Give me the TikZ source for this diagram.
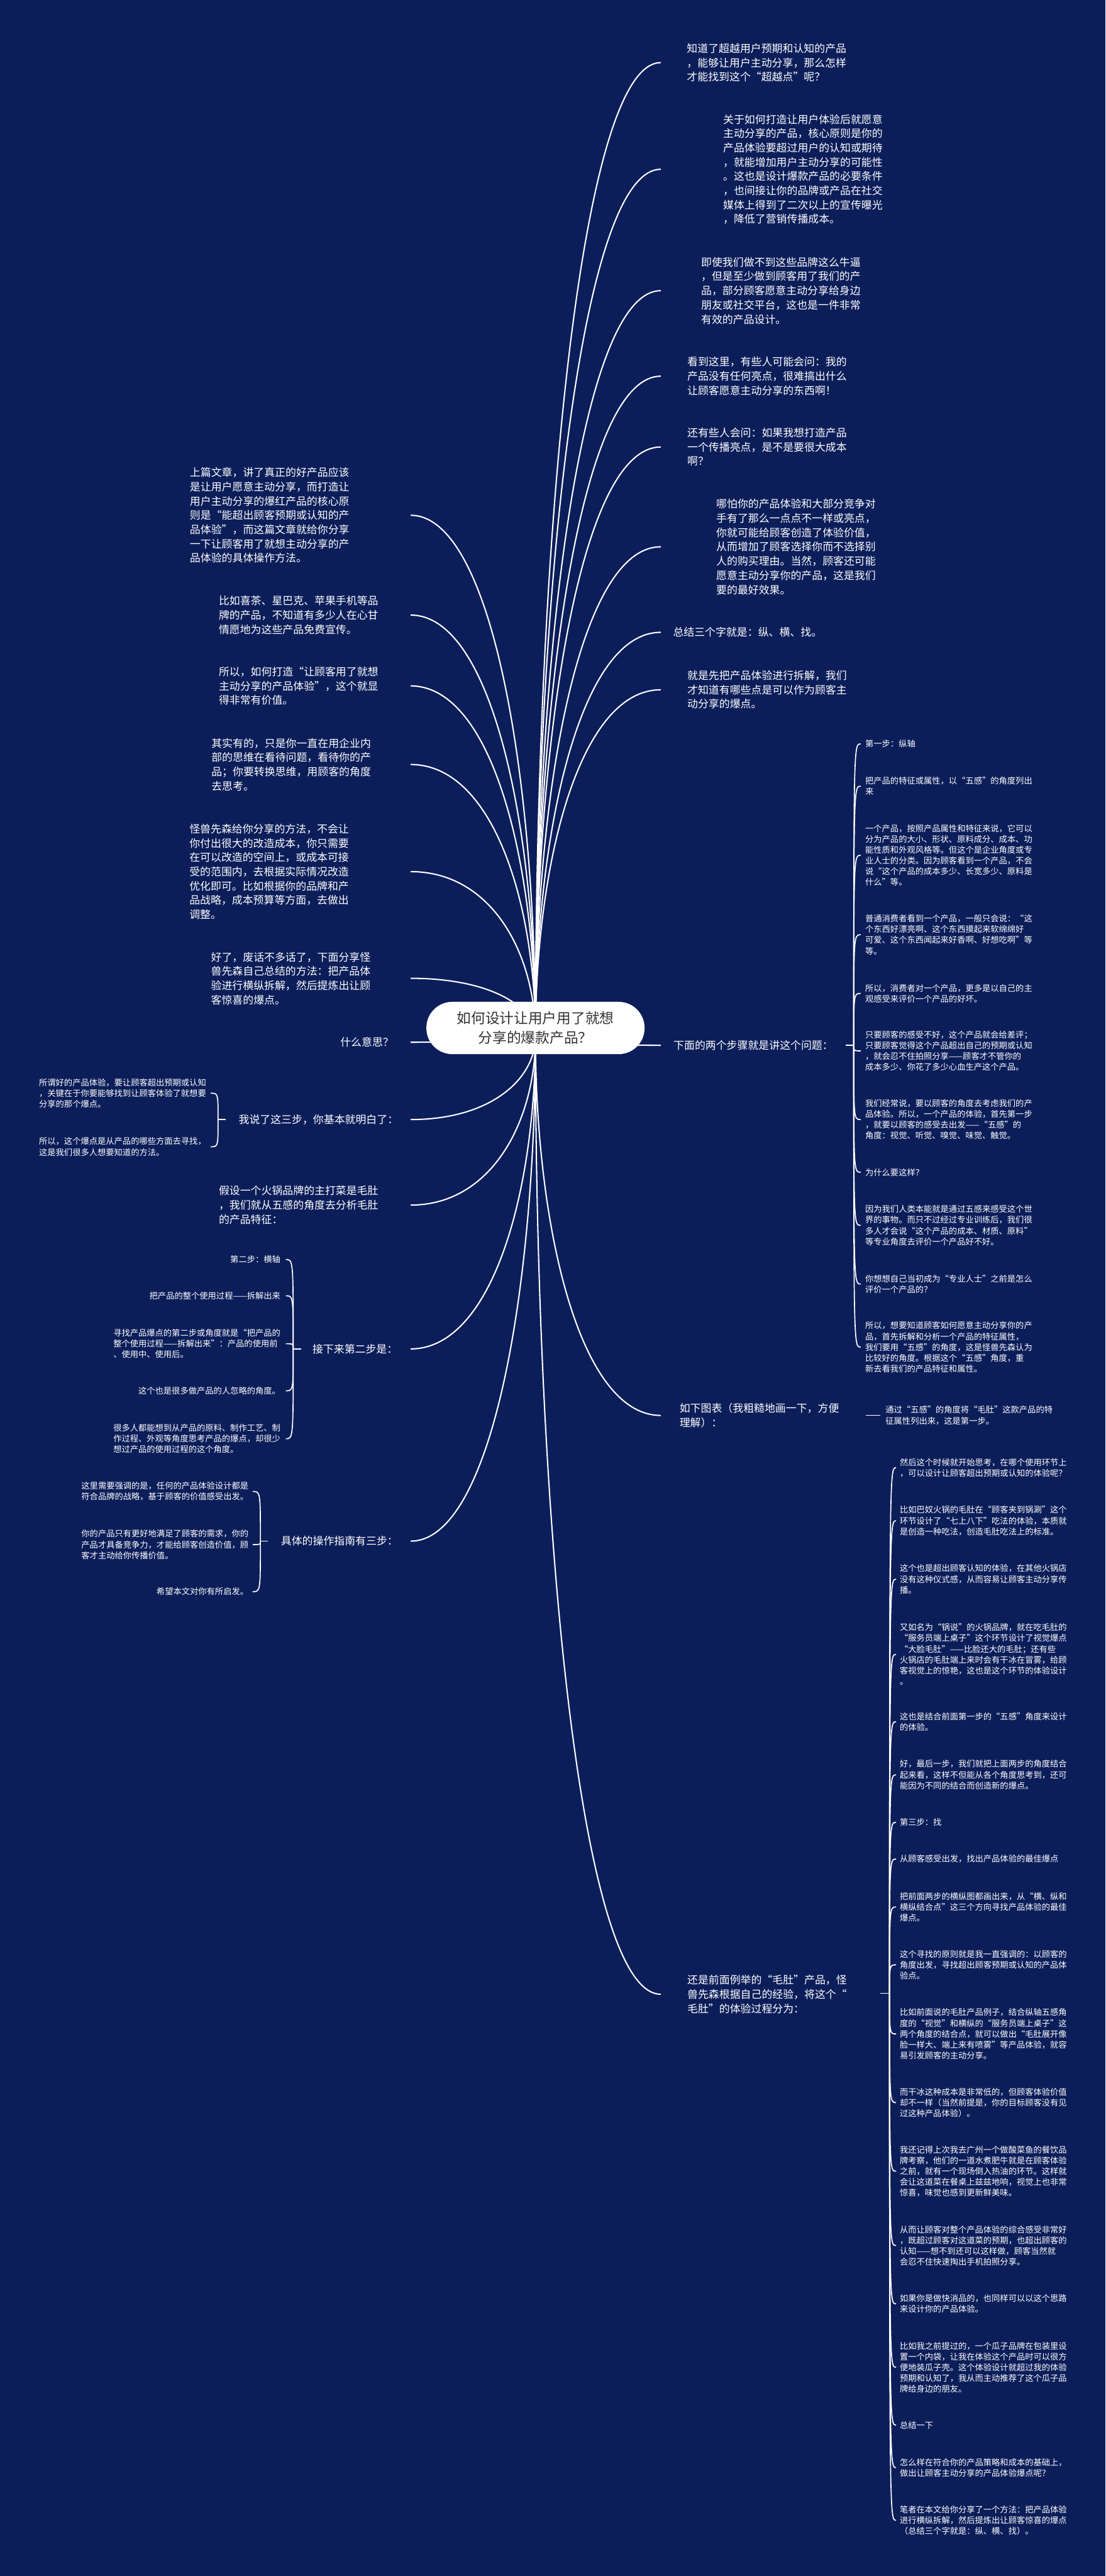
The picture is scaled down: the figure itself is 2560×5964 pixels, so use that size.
\documentclass[tikz,border=0pt]{standalone}
\usepackage{fontspec}
\setmainfont{Noto Sans CJK SC}
\usepackage{xcolor}
\usetikzlibrary{calc}
\definecolor{night}{HTML}{0C1E5A}
\definecolor{ink}{HTML}{333333}

\begin{document}
\begin{tikzpicture}[
        x=0.01cm, y=-0.01cm,
        every node/.style={inner sep=0pt, text=white},
        topic/.style={font=\fontsize{7}{9.4}\selectfont, align=left},
        leaf/.style={font=\fontsize{5.5}{7.1}\selectfont, align=left},
        central/.style={fill=white, text=ink, rounded corners=0.6cm, minimum width=5.05cm, minimum height=1.21cm, align=center, font=\fontsize{9.4}{12.8}\selectfont},
        link/.style={line width=0.7pt, white},
        bough/.style={line width=0.85pt, white, to path={.. controls ($(\tikztostart)!.5!(\tikztostart |- \tikztotarget)$) and ($(\tikztostart |- \tikztotarget)!.35!(#1 |- \tikztotarget)$) .. (#1 |- \tikztotarget)}},
        twig/.style={line width=0.7pt, white, to path={.. controls (\tikztostart |- \tikztotarget) .. (#1 |- \tikztotarget)}}
    ]
    \fill[night] (0,0) rectangle (2560,5964);

    \node[topic, anchor=west] (beyond) at (1590,145) {知道了超越用户预期和认知的产品\\，能够让用户主动分享，那么怎样\\才能找到这个“超越点”呢？};
    \node[topic, anchor=west] (principle) at (1674,392) {关于如何打造让用户体验后就愿意\\主动分享的产品，核心原则是你的\\产品体验要超过用户的认知或期待\\，就能增加用户主动分享的可能性\\。这也是设计爆款产品的必要条件\\，也间接让你的品牌或产品在社交\\媒体上得到了二次以上的宣传曝光\\，降低了营销传播成本。};
    \node[topic, anchor=west] (modest) at (1623,673) {即使我们做不到这些品牌这么牛逼\\，但是至少做到顾客用了我们的产\\品，部分顾客愿意主动分享给身边\\朋友或社交平台，这也是一件非常\\有效的产品设计。};
    \node[topic, anchor=west] (noshine) at (1591,871) {看到这里，有些人可能会问：我的\\产品没有任何亮点，很难搞出什么\\让顾客愿意主动分享的东西啊！};
    \node[topic, anchor=west] (costly) at (1591,1035) {还有些人会问：如果我想打造产品\\一个传播亮点，是不是要很大成本\\啊？};
    \node[topic, anchor=west] (edge) at (1658,1266) {哪怕你的产品体验和大部分竞争对\\手有了那么一点点不一样或亮点，\\你就可能给顾客创造了体验价值，\\从而增加了顾客选择你而不选择别\\人的购买理由。当然，顾客还可能\\愿意主动分享你的产品，这是我们\\要的最好效果。};
    \node[topic, anchor=west] (threewords) at (1558,1464) {总结三个字就是：纵、横、找。};
    \node[topic, anchor=west] (dismantle) at (1591,1597) {就是先把产品体验进行拆解，我们\\才知道有哪些点是可以作为顾客主\\动分享的爆点。};
    \node[topic, anchor=west] (twosteps) at (1559,2420) {下面的两个步骤就是讲这个问题：};
    \node[topic, anchor=west] (chart) at (1573,3277) {如下图表（我粗糙地画一下，方便\\理解）：};
    \node[topic, anchor=west] (tripe) at (1591,4617) {还是前面例举的“毛肚”产品，怪\\兽先森根据自己的经验，将这个“\\毛肚”的体验过程分为：};

    \node[topic, anchor=west] (lastpost) at (439,1193) {上篇文章，讲了真正的好产品应该\\是让用户愿意主动分享，而打造让\\用户主动分享的爆红产品的核心原\\则是“能超出顾客预期或认知的产\\品体验”，而这篇文章就给你分享\\一下让顾客用了就想主动分享的产\\品体验的具体操作方法。};
    \node[topic, anchor=west] (brands) at (506,1424) {比如喜茶、星巴克、苹果手机等品\\牌的产品，不知道有多少人在心甘\\情愿地为这些产品免费宣传。};
    \node[topic, anchor=west] (worth) at (506,1588) {所以，如何打造“让顾客用了就想\\主动分享的产品体验”，这个就显\\得非常有价值。};
    \node[topic, anchor=west] (mindset) at (489,1770) {其实有的，只是你一直在用企业内\\部的思维在看待问题，看待你的产\\品；你要转换思维，用顾客的角度\\去思考。};
    \node[topic, anchor=west] (lowcost) at (438,2018) {怪兽先森给你分享的方法，不会让\\你付出很大的改造成本，你只需要\\在可以改造的空间上，或成本可接\\受的范围内，去根据实际情况改造\\优化即可。比如根据你的品牌和产\\品战略，成本预算等方面，去做出\\调整。};
    \node[topic, anchor=west] (method) at (488,2265) {好了，废话不多话了，下面分享怪\\兽先森自己总结的方法：把产品体\\验进行横纵拆解，然后提炼出让顾\\客惊喜的爆点。};
    \node[topic, anchor=east] (meaning) at (912,2413) {什么意思？};
    \node[topic, anchor=west] (threesteps) at (552,2592) {我说了这三步，你基本就明白了：};
    \node[topic, anchor=west] (hotpot) at (506,2790) {假设一个火锅品牌的主打菜是毛肚\\，我们就从五感的角度去分析毛肚\\的产品特征：};
    \node[topic, anchor=west] (second) at (723,3123) {接下来第二步是：};
    \node[topic, anchor=west] (guide) at (650,3568) {具体的操作指南有三步：};

    \node[leaf, anchor=east] (key1) at (478,2531) {所谓好的产品体验，要让顾客超出预期或认知\\，关键在于你要能够找到让顾客体验了就想要\\分享的那个爆点。};
    \node[leaf, anchor=east] (key2) at (478,2655) {所以，这个爆点是从产品的哪些方面去寻找，\\这是我们很多人想要知道的方法。};

    \node[leaf, anchor=east] (heng1) at (650,2916) {第二步：横轴};
    \node[leaf, anchor=east] (heng2) at (650,3000) {把产品的整个使用过程——拆解出来};
    \node[leaf, anchor=east] (heng3) at (650,3111) {寻找产品爆点的第二步或角度就是“把产品的\\整个使用过程——拆解出来”：产品的使用前\\、使用中、使用后。};
    \node[leaf, anchor=east] (heng4) at (650,3220) {这个也是很多做产品的人忽略的角度。};
    \node[leaf, anchor=east] (heng5) at (650,3331) {很多人都能想到从产品的原料、制作工艺、制\\作过程、外观等角度思考产品的爆点，却很少\\想过产品的使用过程的这个角度。};

    \node[leaf, anchor=east] (tip1) at (576,3453) {这里需要强调的是，任何的产品体验设计都是\\符合品牌的战略，基于顾客的价值感受出发。};
    \node[leaf, anchor=east] (tip2) at (576,3576) {你的产品只有更好地满足了顾客的需求，你的\\产品才具备竞争力，才能给顾客创造价值，顾\\客才主动给你传播价值。};
    \node[leaf, anchor=east] (tip3) at (576,3685) {希望本文对你有所启发。};

    \node[leaf, anchor=west] (zong1) at (2003,1722) {第一步：纵轴};
    \node[leaf, anchor=west] (zong2) at (2003,1820) {把产品的特征或属性，以“五感”的角度列出\\来};
    \node[leaf, anchor=west] (zong3) at (2003,1980) {一个产品，按照产品属性和特征来说，它可以\\分为产品的大小、形状、原料成分、成本、功\\能性质和外观风格等。但这个是企业角度或专\\业人士的分类。因为顾客看到一个产品，不会\\说“这个产品的成本多少、长宽多少、原料是\\什么”等。};
    \node[leaf, anchor=west] (zong4) at (2003,2164) {普通消费者看到一个产品，一般只会说：“这\\个东西好漂亮啊、这个东西摸起来软绵绵好\\可爱、这个东西闻起来好香啊、好想吃啊”等\\等。};
    \node[leaf, anchor=west] (zong5) at (2003,2300) {所以，消费者对一个产品，更多是以自己的主\\观感受来评价一个产品的好坏。};
    \node[leaf, anchor=west] (zong6) at (2003,2433) {只要顾客的感受不好，这个产品就会给差评；\\只要顾客觉得这个产品超出自己的预期或认知\\，就会忍不住拍照分享——顾客才不管你的\\成本多少、你花了多少心血生产这个产品。};
    \node[leaf, anchor=west] (zong7) at (2003,2592) {我们经常说，要以顾客的角度去考虑我们的产\\品体验。所以，一个产品的体验，首先第一步\\，就要以顾客的感受去出发——“五感”的\\角度：视觉、听觉、嗅觉、味觉、触觉。};
    \node[leaf, anchor=west] (zong8) at (2003,2714) {为什么要这样？};
    \node[leaf, anchor=west] (zong9) at (2003,2837) {因为我们人类本能就是通过五感来感受这个世\\界的事物。而只不过经过专业训练后，我们很\\多人才会说“这个产品的成本、材质、原料”\\等专业角度去评价一个产品好不好。};
    \node[leaf, anchor=west] (zong10) at (2003,2973) {你想想自己当初成为“专业人士”之前是怎么\\评价一个产品的？};
    \node[leaf, anchor=west] (zong11) at (2003,3119) {所以，想要知道顾客如何愿意主动分享你的产\\品，首先拆解和分析一个产品的特征属性，\\我们要用“五感”的角度，这是怪兽先森认为\\比较好的角度。根据这个“五感”角度，重\\新去看我们的产品特征和属性。};

    \node[leaf, anchor=west] (senses) at (2050,3277) {通过“五感”的角度将“毛肚”这款产品的特\\征属性列出来，这是第一步。};

    \node[leaf, anchor=west] (flow1) at (2083,3398) {然后这个时候就开始思考，在哪个使用环节上\\，可以设计让顾客超出预期或认知的体验呢？};
    \node[leaf, anchor=west] (flow2) at (2083,3521) {比如巴奴火锅的毛肚在“顾客夹到锅涮”这个\\环节设计了“七上八下”吃法的体验，本质就\\是创造一种吃法，创造毛肚吃法上的标准。};
    \node[leaf, anchor=west] (flow3) at (2083,3656) {这个也是超出顾客认知的体验，在其他火锅店\\没有这种仪式感，从而容易让顾客主动分享传\\播。};
    \node[leaf, anchor=west] (flow4) at (2083,3830) {又如名为“锅说”的火锅品牌，就在吃毛肚的\\“服务员端上桌子”这个环节设计了视觉爆点\\“大脸毛肚”——比脸还大的毛肚；还有些\\火锅店的毛肚端上来时会有干冰在冒雾，给顾\\客视觉上的惊艳，这也是这个环节的体验设计\\。};
    \node[leaf, anchor=west] (flow5) at (2083,3986) {这也是结合前面第一步的“五感”角度来设计\\的体验。};
    \node[leaf, anchor=west] (flow6) at (2083,4109) {好，最后一步，我们就把上面两步的角度结合\\起来看，这样不但能从各个角度思考到，还可\\能因为不同的结合而创造新的爆点。};
    \node[leaf, anchor=west] (flow7) at (2083,4219) {第三步：找};
    \node[leaf, anchor=west] (flow8) at (2083,4304) {从顾客感受出发，找出产品体验的最佳爆点};
    \node[leaf, anchor=west] (flow9) at (2083,4415) {把前面两步的横纵图都画出来，从“横、纵和\\横纵结合点”这三个方向寻找产品体验的最佳\\爆点。};
    \node[leaf, anchor=west] (flow10) at (2083,4549) {这个寻找的原则就是我一直强调的：以顾客的\\角度出发，寻找超出顾客预期或认知的产品体\\验点。};
    \node[leaf, anchor=west] (flow11) at (2083,4709) {比如前面说的毛肚产品例子，结合纵轴五感角\\度的“视觉”和横纵的“服务员端上桌子”这\\两个角度的结合点，就可以做出“毛肚展开像\\脸一样大、端上来有喷雾”等产品体验，就容\\易引发顾客的主动分享。};
    \node[leaf, anchor=west] (flow12) at (2083,4868) {而干冰这种成本是非常低的，但顾客体验价值\\却不一样（当然前提是，你的目标顾客没有见\\过这种产品体验）。};
    \node[leaf, anchor=west] (flow13) at (2083,5027) {我还记得上次我去广州一个做酸菜鱼的餐饮品\\牌考察，他们的一道水煮肥牛就是在顾客体验\\之前，就有一个现场倒入热油的环节。这样就\\会让这道菜在餐桌上兹兹地响，视觉上也非常\\惊喜，味觉也感到更新鲜美味。};
    \node[leaf, anchor=west] (flow14) at (2083,5199) {从而让顾客对整个产品体验的综合感受非常好\\，既超过顾客对这道菜的预期，也超出顾客的\\认知——想不到还可以这样做，顾客当然就\\会忍不住快速掏出手机拍照分享。};
    \node[leaf, anchor=west] (flow15) at (2083,5334) {如果你是做快消品的，也同样可以以这个思路\\来设计你的产品体验。};
    \node[leaf, anchor=west] (flow16) at (2083,5481) {比如我之前提过的，一个瓜子品牌在包装里设\\置一个内袋，让我在体验这个产品时可以很方\\便地装瓜子壳。这个体验设计就超过我的体验\\预期和认知了，我从而主动推荐了这个瓜子品\\牌给身边的朋友。};
    \node[leaf, anchor=west] (flow17) at (2083,5615) {总结一下};
    \node[leaf, anchor=west] (flow18) at (2083,5713) {怎么样在符合你的产品策略和成本的基础上，\\做出让顾客主动分享的产品体验爆点呢？};
    \node[leaf, anchor=west] (flow19) at (2083,5835) {笔者在本文给你分享了一个方法：把产品体验\\进行横纵拆解，然后提炼出让顾客惊喜的爆点\\（总结三个字就是：纵、横、找）。};

    \coordinate (hub) at (1240,2400);
    \coordinate (rx) at (1530,0);
    \coordinate (lx) at (951,0);
    \coordinate (sk) at (505,2592);
    \coordinate (ek) at (488,0);
    \coordinate (sh) at (679,3123);
    \coordinate (eh) at (662,0);
    \coordinate (sg) at (603,3568);
    \coordinate (eg) at (585,0);
    \coordinate (sa) at (1977,2420);
    \coordinate (ea) at (1993,0);
    \coordinate (sb) at (2060,4615);
    \coordinate (eb) at (2075,0);

    \draw[bough=rx] (hub) to (beyond);
    \draw[bough=rx] (hub) to (principle);
    \draw[bough=rx] (hub) to (modest);
    \draw[bough=rx] (hub) to (noshine);
    \draw[bough=rx] (hub) to (costly);
    \draw[bough=rx] (hub) to (edge);
    \draw[bough=rx] (hub) to (threewords);
    \draw[bough=rx] (hub) to (dismantle);
    \draw[bough=rx] (hub) to (twosteps);
    \draw[bough=rx] (hub) to (chart);
    \draw[bough=rx] (hub) to (tripe);
    \draw[bough=lx] (hub) to (lastpost);
    \draw[bough=lx] (hub) to (brands);
    \draw[bough=lx] (hub) to (worth);
    \draw[bough=lx] (hub) to (mindset);
    \draw[bough=lx] (hub) to (lowcost);
    \draw[bough=lx] (hub) to (method);
    \draw[bough=lx] (hub) to (meaning);
    \draw[bough=lx] (hub) to (threesteps);
    \draw[bough=lx] (hub) to (hotpot);
    \draw[bough=lx] (hub) to (second);
    \draw[bough=lx] (hub) to (guide);

    \draw[link] (sk) -- +(18,0);
    \draw[twig=ek] (sk) to (key1);
    \draw[twig=ek] (sk) to (key2);

    \draw[link] (sh) -- +(18,0);
    \draw[twig=eh] (sh) to (heng1);
    \draw[twig=eh] (sh) to (heng2);
    \draw[twig=eh] (sh) to (heng3);
    \draw[twig=eh] (sh) to (heng4);
    \draw[twig=eh] (sh) to (heng5);

    \draw[link] (sg) -- +(17,0);
    \draw[twig=eg] (sg) to (tip1);
    \draw[twig=eg] (sg) to (tip2);
    \draw[twig=eg] (sg) to (tip3);

    \draw[link] (sa) -- +(-19,0);
    \draw[twig=ea] (sa) to (zong1);
    \draw[twig=ea] (sa) to (zong2);
    \draw[twig=ea] (sa) to (zong3);
    \draw[twig=ea] (sa) to (zong4);
    \draw[twig=ea] (sa) to (zong5);
    \draw[twig=ea] (sa) to (zong6);
    \draw[twig=ea] (sa) to (zong7);
    \draw[twig=ea] (sa) to (zong8);
    \draw[twig=ea] (sa) to (zong9);
    \draw[twig=ea] (sa) to (zong10);
    \draw[twig=ea] (sa) to (zong11);

    \draw[link] ([xshift=-0.11cm]senses.west) -- ([xshift=-0.45cm]senses.west);

    \draw[link] (sb) -- +(-21,0);
    \draw[twig=eb] (sb) to (flow1);
    \draw[twig=eb] (sb) to (flow2);
    \draw[twig=eb] (sb) to (flow3);
    \draw[twig=eb] (sb) to (flow4);
    \draw[twig=eb] (sb) to (flow5);
    \draw[twig=eb] (sb) to (flow6);
    \draw[twig=eb] (sb) to (flow7);
    \draw[twig=eb] (sb) to (flow8);
    \draw[twig=eb] (sb) to (flow9);
    \draw[twig=eb] (sb) to (flow10);
    \draw[twig=eb] (sb) to (flow11);
    \draw[twig=eb] (sb) to (flow12);
    \draw[twig=eb] (sb) to (flow13);
    \draw[twig=eb] (sb) to (flow14);
    \draw[twig=eb] (sb) to (flow15);
    \draw[twig=eb] (sb) to (flow16);
    \draw[twig=eb] (sb) to (flow17);
    \draw[twig=eb] (sb) to (flow18);
    \draw[twig=eb] (sb) to (flow19);

    \node[central] (root) at (1240,2380) {如何设计让用户用了就想\\分享的爆款产品？};
\end{tikzpicture}
\end{document}
